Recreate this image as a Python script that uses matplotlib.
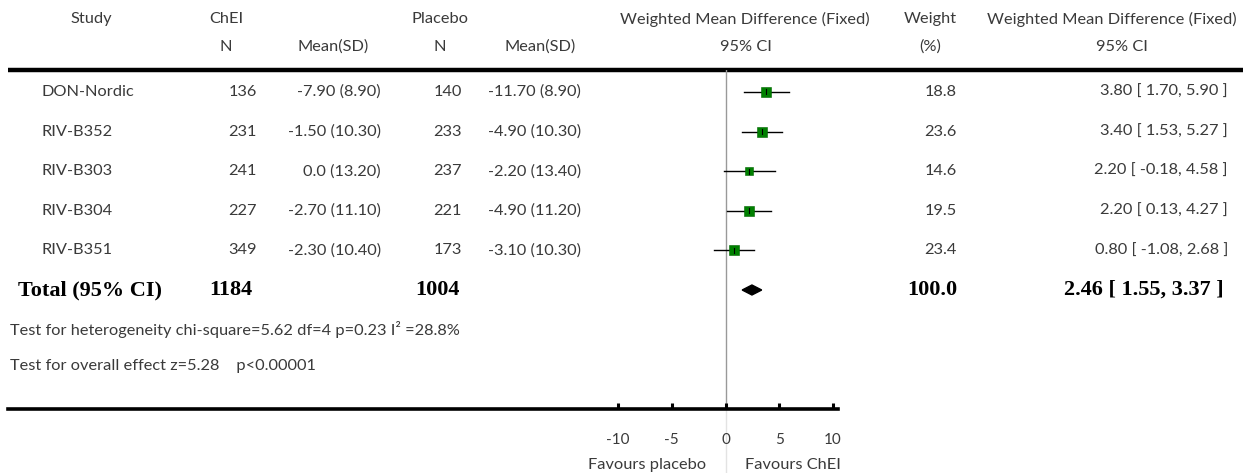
import matplotlib
matplotlib.use("Agg")
import matplotlib.pyplot as plt
import numpy as np

# ---------------- data ----------------
studies = ["DON-Nordic", "RIV-B352", "RIV-B303", "RIV-B304", "RIV-B351"]
chei_n = [136, 231, 241, 227, 349]
chei_mean_sd = ["-7.90 (8.90)", "-1.50 (10.30)", "0.0 (13.20)", "-2.70 (11.10)", "-2.30 (10.40)"]
plac_n = [140, 233, 237, 221, 173]
plac_mean_sd = ["-11.70 (8.90)", "-4.90 (10.30)", "-2.20 (13.40)", "-4.90 (11.20)", "-3.10 (10.30)"]
wmd = [3.80, 3.40, 2.20, 2.20, 0.80]
ci_low = [1.70, 1.53, -0.18, 0.13, -1.08]
ci_high = [5.90, 5.27, 4.58, 4.27, 2.68]
weights = [18.8, 23.6, 14.6, 19.5, 23.4]

total_label = "Total (95% CI)"
total_chei_n = 1184
total_plac_n = 1004
total_wmd = 2.46
total_low = 1.55
total_high = 3.37
total_weight = 100.0

heterogeneity = "Test for heterogeneity chi-square=5.62 df=4 p=0.23 I² =28.8%"
overall = "Test for overall effect z=5.28    p<0.00001"
xticks = [-10, -5, 0, 5, 10]
xlabel_left = "Favours placebo"
xlabel_right = "Favours ChEI"

# ---------------- layout ----------------
W, H = 1243, 473
fig = plt.figure(figsize=(W / 100, H / 100), dpi=100)
bg = fig.add_axes([0, 0, 1, 1])
bg.set_xlim(0, W)
bg.set_ylim(H, 0)
bg.axis("off")

FONT = ["Lato", "DejaVu Sans"]
SERIF = ["Liberation Serif", "DejaVu Serif"]
TC = "#3a3a3a"
FS = 11.8
BFS = 16

def t(x, y, s, ha="left", bold=False, **kw):
    if bold:
        bg.text(x, y, s, ha=ha, va="center", fontsize=BFS, family=SERIF,
                fontweight="bold", color="black", **kw)
    else:
        bg.text(x, y, s, ha=ha, va="center", fontsize=FS, family=FONT,
                fontweight="normal", color=TC, **kw)

h1, h2 = 19, 47
t(91, h1, "Study", ha="center")
t(226, h1, "ChEI", ha="center")
t(440, h1, "Placebo", ha="center")
t(745, h1, "Weighted Mean Difference (Fixed)", ha="center")
t(930, h1, "Weight", ha="center")
t(1112, h1, "Weighted Mean Difference (Fixed)", ha="center")
t(226, h2, "N", ha="center")
t(333, h2, "Mean(SD)", ha="center")
t(440, h2, "N", ha="center")
t(540, h2, "Mean(SD)", ha="center")
t(746, h2, "95% CI", ha="center")
t(930, h2, "(%)", ha="center")
t(1122, h2, "95% CI", ha="center")

bg.plot([8, W], [70, 70], color="black", lw=3.2, solid_capstyle="butt")

row0, dy = 92, 39.6
for i, s in enumerate(studies):
    y = row0 + i * dy
    t(42, y, s)
    t(257, y, str(chei_n[i]), ha="right")
    t(381, y, chei_mean_sd[i], ha="right")
    t(462, y, str(plac_n[i]), ha="right")
    t(488, y, plac_mean_sd[i])
    t(957, y, f"{weights[i]:.1f}", ha="right")
    t(1228, y, f"{wmd[i]:.2f} [ {ci_low[i]:.2f}, {ci_high[i]:.2f} ]", ha="right")

ty = row0 + len(studies) * dy
t(18, ty, total_label, bold=True)
t(252, ty, str(total_chei_n), ha="right", bold=True)
t(460, ty, str(total_plac_n), ha="right", bold=True)
t(957, ty, f"{total_weight:.1f}", ha="right", bold=True)
t(1224, ty, f"{total_wmd:.2f} [ {total_low:.2f}, {total_high:.2f} ]", ha="right", bold=True)
t(10, ty + 39, heterogeneity)
t(10, ty + 76, overall)

# ---------------- forest axes ----------------
px_left, px_right = 8, 838      # pixel extent of axis line
px_m10, px_p10 = 618, 833       # pixel position of -10 and +10
ppu = (px_p10 - px_m10) / 20.0
xmin = -10 - (px_m10 - px_left) / ppu
xmax = 10 + (px_right - px_p10) / ppu
ax_top, ax_bot = 70, 409
ax = fig.add_axes([px_left / W, 1 - ax_bot / H, (px_right - px_left) / W, (ax_bot - ax_top) / H])
ax.set_xlim(xmin, xmax)
ax.set_ylim(ax_bot, ax_top)
ax.patch.set_alpha(0)
for sp in ["top", "left", "right"]:
    ax.spines[sp].set_visible(False)
ax.spines["bottom"].set_linewidth(2.6)
ax.set_yticks([])
ax.set_xticks(xticks)
ax.set_xticklabels([str(v) for v in xticks], family=FONT, fontsize=FS - 0.8,
                   fontweight="normal", color=TC)
ax.tick_params(axis="x", direction="in", length=4, width=2.2, pad=17)

# vertical zero line
ax.plot([0, 0], [ax_top, ax_bot], color="#999999", lw=1.0, zorder=1)
ax.plot([0, 0], [ax_bot, H], color="#e3e3e3", lw=1.0, zorder=0, clip_on=False)

for i in range(len(studies)):
    y = row0 + i * dy
    ax.plot([ci_low[i], ci_high[i]], [y, y], color="black", lw=1.0, zorder=2)
    ms = 7.4 * np.sqrt(weights[i] / 23.6)
    ax.plot(wmd[i], y, marker="s", ms=ms, mfc="#008000", mec="#006400", mew=0.4, zorder=3)
    ax.plot([wmd[i], wmd[i]], [y - 2.5, y + 2.5], color="black", lw=0.8, zorder=4)

dh = 5
ax.fill([total_low, total_wmd, total_high, total_wmd], [ty, ty - dh, ty, ty + dh],
        color="black", zorder=3)

# x labels under axis
t(647, 465, xlabel_left, ha="center")
t(793, 465, xlabel_right, ha="center")

fig.savefig("out.png", dpi=100)
